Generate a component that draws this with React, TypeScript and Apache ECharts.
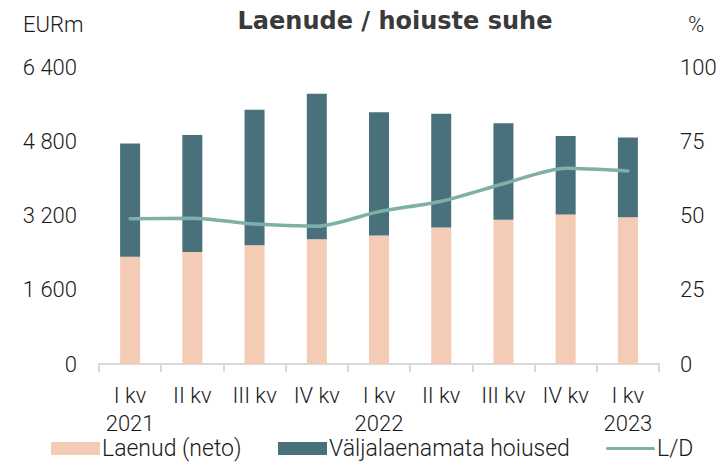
import React, { useEffect, useRef } from "react";
import * as echarts from "echarts";

const categories = ["I kv\n2021", "II kv", "III kv", "IV kv", "I kv\n2022", "II kv", "III kv", "IV kv", "I kv\n2023"];
const loans = [2313, 2415, 2558, 2688, 2768, 2941, 3107, 3222, 3163];
const undeployedDeposits = [2437, 2521, 2919, 3135, 2659, 2449, 2082, 1693, 1717];
const ldRatio = [48.9, 49.1, 47.1, 46.4, 51.3, 54.8, 60.7, 65.9, 65.0];
const leftTicks = { min: 0, max: 6400, interval: 1600 };
const rightTicks = { min: 0, max: 100, interval: 25 };
const seriesNames = ["Laenud (neto)", "Väljalaenamata hoiused", "L/D"];

const FONT = "Roboto";
const TXT = "#1a1a1a";
const LINE_ICON = "path://M0,0L0.01,0L0.01,0.01ZM0,13L0.01,13L0.01,12.99ZM1.5,5L47.5,5A1.5,1.5,0,0,1,47.5,8L1.5,8A1.5,1.5,0,0,1,1.5,5Z";

function fmtThousands(v: number) {
  return String(v).replace(/\B(?=(\d{3})+(?!\d))/g, " ");
}

export default function App() {
  const ref = useRef<HTMLDivElement>(null);
  useEffect(() => {
    if (!ref.current) return;
    const chart = echarts.init(ref.current, null, { renderer: "svg" });
    const legendBase = {
      top: 437,
      padding: 0,
      itemWidth: 49,
      itemHeight: 13,
      textStyle: { fontSize: 23, fontFamily: FONT, fontWeight: 300, color: TXT, padding: [0, 0, 0, -3] },
    };
    chart.setOption({
      animation: false,
      textStyle: { fontFamily: FONT, fontWeight: 300, color: TXT },
      grid: { left: 99, right: 63, top: 67, bottom: 100, containLabel: false },
      graphic: [
        {
          type: "text",
          x: 395,
          y: 21,
          style: {
            text: "Laenude / hoiuste suhe",
            align: "center",
            verticalAlign: "middle",
            font: `bold 24px "DejaVu Sans", sans-serif`,
            fill: "#3a3a3a",
          },
        },
        {
          type: "text",
          x: 23,
          y: 24,
          style: {
            text: "EURm",
            verticalAlign: "middle",
            font: `300 22px ${FONT}`,
            fill: TXT,
          },
        },
        {
          type: "text",
          x: 696,
          y: 24,
          style: {
            text: "%",
            align: "center",
            verticalAlign: "middle",
            font: `300 22px ${FONT}`,
            fill: TXT,
          },
        },
      ],
      legend: [
        { ...legendBase, left: 51, data: [{ name: seriesNames[0], icon: "rect" }] },
        { ...legendBase, left: 278, data: [{ name: seriesNames[1], icon: "rect" }] },
        { ...legendBase, left: 606, data: [{ name: seriesNames[2], icon: LINE_ICON }] },
      ],
      xAxis: {
        type: "category",
        data: categories,
        axisLine: { lineStyle: { color: "#d9d9d9", width: 2 } },
        axisTick: { show: true, length: 8, lineStyle: { color: "#d9d9d9", width: 2 } },
        axisLabel: { fontSize: 22, fontFamily: FONT, fontWeight: 300, color: TXT, margin: 17, lineHeight: 28, interval: 0 },
      },
      yAxis: [
        {
          type: "value",
          ...leftTicks,
          splitLine: { show: false },
          axisLine: { show: false },
          axisTick: { show: false },
          axisLabel: {
            fontSize: 22,
            fontFamily: FONT,
            fontWeight: 300,
            color: TXT,
            margin: 22,
            formatter: (v: number) => fmtThousands(v),
          },
        },
        {
          type: "value",
          ...rightTicks,
          position: "right",
          splitLine: { show: false },
          axisLine: { show: false },
          axisTick: { show: false },
          axisLabel: { fontSize: 22, fontFamily: FONT, fontWeight: 300, color: TXT, margin: 21 },
        },
      ],
      series: [
        {
          name: seriesNames[0],
          type: "bar",
          stack: "s",
          data: loans,
          barWidth: 20,
          itemStyle: { color: "#f4cbb5" },
        },
        {
          name: seriesNames[1],
          type: "bar",
          stack: "s",
          data: undeployedDeposits,
          barWidth: 20,
          itemStyle: { color: "#48717c" },
        },
        {
          name: seriesNames[2],
          type: "line",
          yAxisIndex: 1,
          data: ldRatio,
          symbol: "none",
          smooth: 0.25,
          lineStyle: { color: "#7fb0a6", width: 3.5, cap: "round" },
          itemStyle: { color: "#7fb0a6" },
        },
      ],
    });
    return () => chart.dispose();
  }, []);
  return <div ref={ref} style={{ width: 722, height: 464, position: "absolute", left: 0, top: 0 }} />;
}
